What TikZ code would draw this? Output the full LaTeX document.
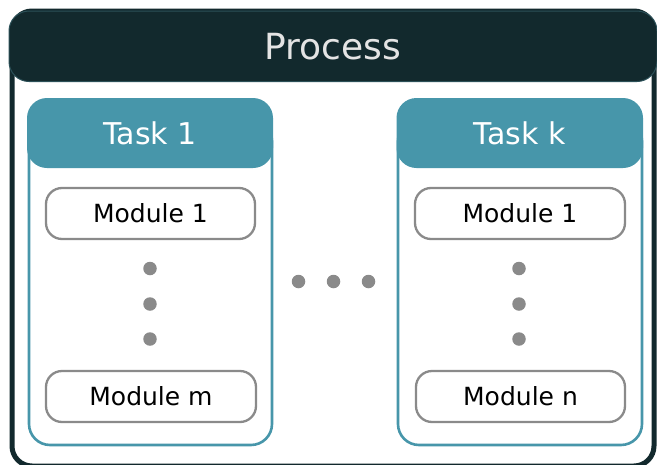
\documentclass[tikz,border=0pt]{standalone}
\usepackage{fontspec}
\setmainfont{DejaVu Sans}
\definecolor{procdark}{HTML}{12292D}
\definecolor{procedge}{HTML}{2B5058}
\definecolor{taskteal}{HTML}{4796AA}
\definecolor{modgray}{HTML}{8A8A8A}
\definecolor{headtext}{HTML}{E4E4E4}
\begin{document}
\begin{tikzpicture}[x=1pt,y=-1pt,
  outerbox/.style={draw=procdark,line width=5pt,rounded corners=20pt},
  prochead/.style={fill=procdark,draw=procedge,line width=1pt,rounded corners=20pt,
    minimum width=648pt,minimum height=70.5pt,inner sep=0pt,text=headtext,
    font=\fontsize{36}{40}\selectfont},
  taskbody/.style={draw=taskteal,line width=2.6pt,rounded corners=21pt},
  taskhead/.style={fill=taskteal,rounded corners=20pt,minimum width=246pt,
    minimum height=70pt,inner sep=0pt,text=white,font=\fontsize{30}{34}\selectfont},
  modbox/.style={draw=modgray,line width=2.3pt,fill=white,rounded corners=16pt,
    minimum width=209pt,minimum height=51pt,inner sep=0pt,
    font=\fontsize{25}{30}\selectfont},
  vdot/.style={circle,fill=modgray,minimum size=13.5pt,inner sep=0pt}]
\useasboundingbox (0,0) rectangle (657,464);
\fill[white] (0,0) rectangle (657,464);

% outer process frame and its title bar
\draw[outerbox] (12,11) rectangle (654,466);
\node[prochead] (process) at (333,46.25) {Process};

% task columns
\draw[taskbody] (29,120) rectangle (272,445);
\node[taskhead] (task1) at (150,133) {Task 1};
\draw[taskbody] (398,120) rectangle (642,445);
\node[taskhead,minimum width=246.5pt] (taskk) at (519.75,133) {Task k};

% modules of task 1
\node[modbox] (t1m1) at (150.5,213.5) {Module 1};
\node[modbox,minimum width=210pt] (t1mm) at (151,396.5) {Module m};
\node[vdot] (t1d1) at (150,268.5) {};
\node[vdot] (t1d2) at (150,304) {};
\node[vdot] (t1d3) at (150,339) {};

% modules of task k
\node[modbox,minimum width=210pt] (tkm1) at (520,213.5) {Module 1};
\node[modbox] (tkmn) at (520.5,396.5) {Module n};
\node[vdot] (tkd1) at (519,268.5) {};
\node[vdot] (tkd2) at (519,304) {};
\node[vdot] (tkd3) at (519,339) {};

% ellipsis between the tasks
\node[vdot] (gap1) at (298.5,281.5) {};
\node[vdot] (gap2) at (333.5,281.5) {};
\node[vdot] (gap3) at (368.5,281.5) {};
\end{tikzpicture}
\end{document}
